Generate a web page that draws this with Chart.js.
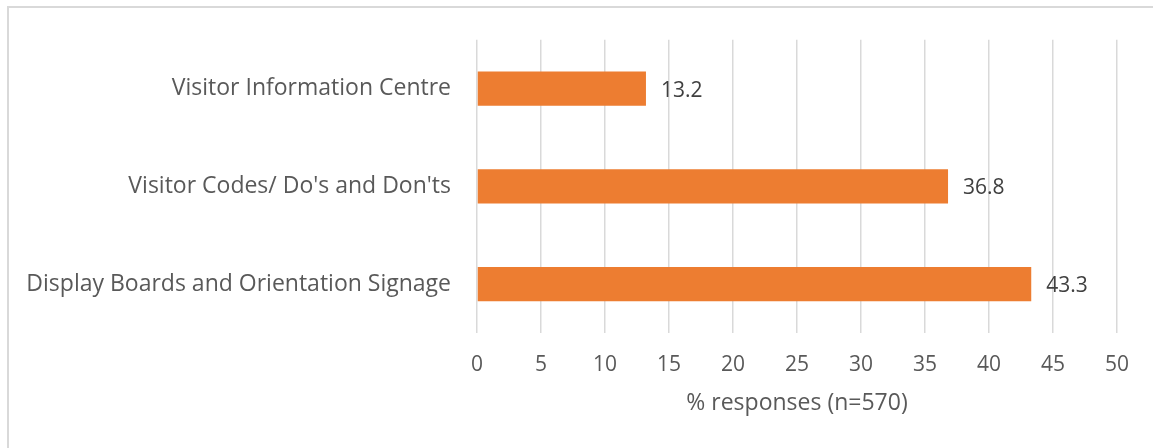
<!DOCTYPE html>
<html>
<head>
<meta charset="utf-8">
<script src="https://cdn.jsdelivr.net/npm/chart.js@4"></script>
<style>
    html, body { margin: 0; padding: 0; background: #ffffff; }
    #chart-div { position: relative; width: 1153px; height: 448px; }
</style>
</head>
<body>
<div id="chart-div">
    <canvas id="chart1" width="1153" height="448"></canvas>
</div>
<script>
//--------------------------------------DATOS
var categorias = ["Visitor Information Centre", "Visitor Codes/ Do's and Don'ts", "Display Boards and Orientation Signage"];
var respuestas = [13.2, 36.8, 43.3];
var tituloEje = "% responses (n=570)";
var ejeMin = 0;
var ejeMax = 50;
var ejePaso = 5;

var fuente = "'Open Sans', sans-serif";

//--------------------------------------PLUGINS
var marcoPlugin = {
    id: 'marco',
    beforeDraw: function (chart) {
        var ctx = chart.ctx;
        ctx.save();
        ctx.strokeStyle = '#d9d9d9';
        ctx.lineWidth = 2;
        ctx.strokeRect(8, 7, 1300, 600);
        ctx.restore();
    }
};

var etiquetasPlugin = {
    id: 'etiquetas',
    afterDatasetsDraw: function (chart) {
        var ctx = chart.ctx;
        var meta = chart.getDatasetMeta(0);
        ctx.save();
        ctx.font = "21px " + fuente;
        ctx.fillStyle = '#404040';
        ctx.textAlign = 'left';
        ctx.textBaseline = 'middle';
        meta.data.forEach(function (bar, i) {
            ctx.fillText(respuestas[i].toFixed(1), bar.x + 15, bar.y + 2);
        });
        ctx.restore();
    }
};

//--------------------------------------GRAFICA
function grafica() {
    var popCanvas = document.getElementById("chart1");
    var barChart = new Chart(popCanvas, {
        type: 'bar',
        data: {
            labels: categorias,
            datasets: [{
                label: 'Responses',
                data: respuestas,
                backgroundColor: '#ed7d31',
                borderWidth: 0,
                barPercentage: 0.35,
                categoryPercentage: 1
            }]
        },
        options: {
            indexAxis: 'y',
            responsive: false,
            animation: false,
            layout: {
                padding: {top: 37, right: 36, bottom: 0, left: 0}
            },
            plugins: {
                legend: {display: false},
                tooltip: {enabled: false}
            },
            scales: {
                x: {
                    min: ejeMin,
                    max: ejeMax,
                    ticks: {
                        stepSize: ejePaso,
                        padding: 19,
                        color: '#595959',
                        font: {family: fuente, size: 21}
                    },
                    grid: {
                        color: '#d9d9d9',
                        lineWidth: 1.5,
                        drawTicks: false
                    },
                    border: {display: false},
                    title: {
                        display: true,
                        text: tituloEje,
                        color: '#595959',
                        font: {family: fuente, size: 23},
                        padding: {top: 0, bottom: 31}
                    },
                    afterFit: function (scale) {
                        scale.height = 115;
                    }
                },
                y: {
                    ticks: {
                        padding: 26,
                        color: '#595959',
                        font: {family: fuente, size: 23}
                    },
                    grid: {display: false, drawTicks: false},
                    border: {display: false},
                    afterFit: function (scale) {
                        scale.width = 477;
                    }
                }
            }
        },
        plugins: [marcoPlugin, etiquetasPlugin]
    });
}

grafica();
</script>
</body>
</html>
